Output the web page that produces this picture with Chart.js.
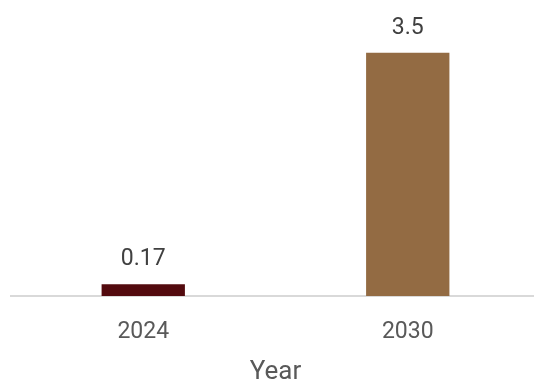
<!DOCTYPE html>
<html>
<head>
<meta charset="utf-8">
<script src="https://cdn.jsdelivr.net/npm/chart.js@4"></script>
<style>
  html, body { margin: 0; padding: 0; background: #fff; overflow: hidden; }
  #wrap { width: 534px; height: 383px; overflow: hidden; }
</style>
</head>
<body>
<div id="wrap"><canvas id="c" width="540" height="383"></canvas></div>
<script>
const categories = ["2024", "2030"];
const values = [0.17, 3.5];
const valueLabels = ["0.17", "3.5"];
const barColors = ["#530a0e", "#936b43"];
const axisTitle = "Year";

const dataLabelPlugin = {
  id: 'dataLabels',
  afterDatasetsDraw(chart) {
    const ctx = chart.ctx;
    const meta = chart.getDatasetMeta(0);
    ctx.save();
    ctx.font = '23px Roboto';
    ctx.fillStyle = '#404040';
    ctx.textAlign = 'center';
    ctx.textBaseline = 'alphabetic';
    meta.data.forEach((bar, i) => {
      ctx.fillText(valueLabels[i], bar.x, bar.y - 19);
    });
    ctx.restore();
  }
};

new Chart(document.getElementById('c'), {
  type: 'bar',
  data: {
    labels: categories,
    datasets: [{
      data: values,
      backgroundColor: barColors,
      borderWidth: 0,
      categoryPercentage: 1,
      barPercentage: 0.315
    }]
  },
  options: {
    responsive: false,
    animation: false,
    devicePixelRatio: 1,
    layout: { padding: { left: 11, top: 18, right: 0, bottom: 0 } },
    plugins: { legend: { display: false }, tooltip: { enabled: false } },
    scales: {
      x: {
        grid: { display: false, drawTicks: false },
        border: { display: true, color: '#d9d9d9', width: 2 },
        ticks: { color: '#595959', font: { family: 'Roboto', size: 23 }, padding: 22 },
        title: { display: true, text: axisTitle, color: '#595959', font: { family: 'Roboto', size: 26 }, padding: { top: 8, bottom: -5 } },
        afterFit(scale) { scale.height = 87; }
      },
      y: {
        display: false,
        min: 0,
        max: 4
      }
    }
  },
  plugins: [dataLabelPlugin]
});
</script>
</body>
</html>
